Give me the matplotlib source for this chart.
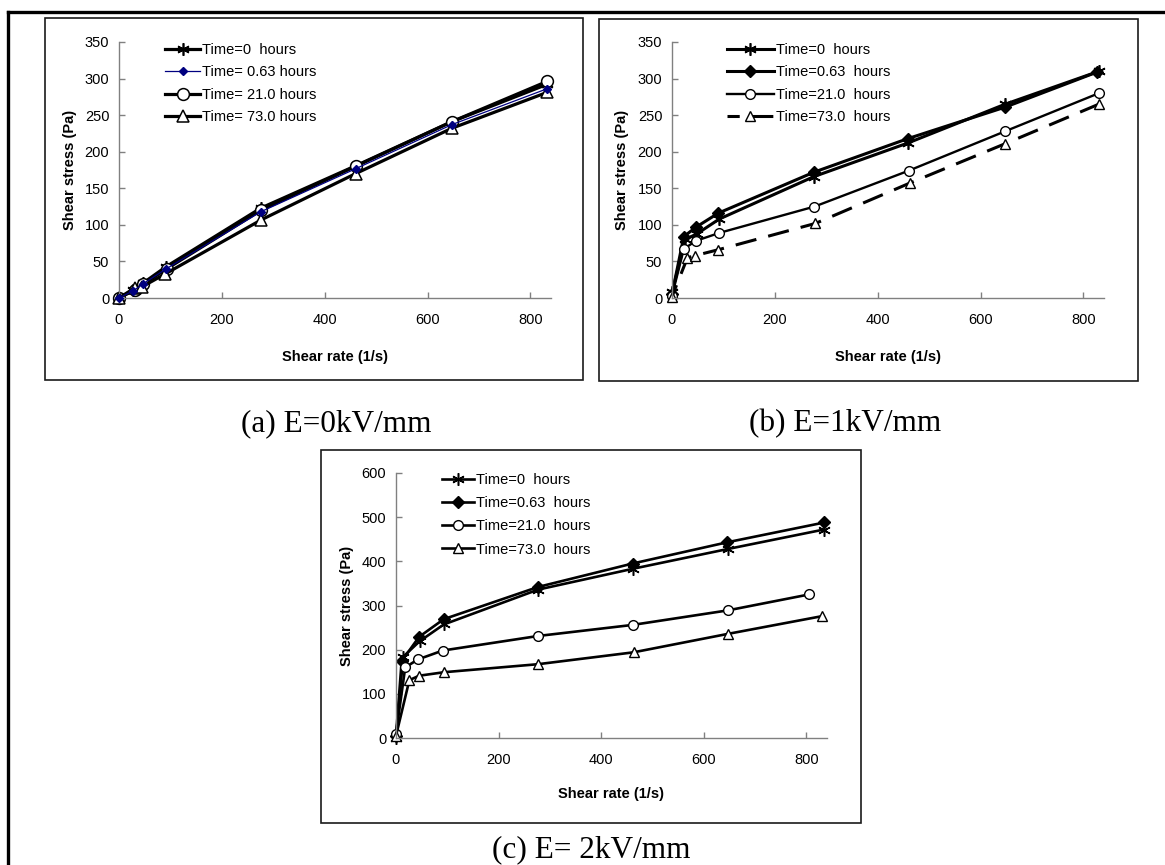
# Libs
import matplotlib
matplotlib.use("Agg")
import matplotlib.pyplot as plt
import matplotlib.patches as mpatches
from matplotlib.lines import Line2D


# --- Data ---

# Panel (a) E=0kV/mm
a_rate_0 = [0, 28, 46, 92, 276, 461, 647, 832]
a_stress_0 = [0, 11, 20, 43, 123, 181, 241, 292]
a_rate_063 = [0, 28, 46, 92, 276, 461, 647, 832]
a_stress_063 = [0, 10, 19, 40, 118, 177, 237, 286]
a_rate_21 = [0, 31, 47, 93, 276, 460, 647, 832]
a_stress_21 = [0, 11, 19, 40, 120, 180, 241, 296]
a_rate_73 = [0, 31, 44, 90, 277, 460, 647, 832]
a_stress_73 = [0, 14, 15, 33, 107, 170, 232, 281]

# Panel (b) E=1kV/mm
b_rate_0 = [0, 26, 49, 92, 276, 459, 648, 830]
b_stress_0 = [8, 80, 88, 108, 166, 212, 265, 310]
b_rate_063 = [0, 23, 47, 90, 276, 459, 648, 827]
b_stress_063 = [5, 84, 97, 116, 172, 218, 261, 309]
b_rate_21 = [0, 23, 46, 92, 277, 460, 648, 830]
b_stress_21 = [3, 67, 78, 89, 125, 174, 228, 280]
b_rate_73 = [0, 30, 45, 90, 279, 462, 648, 830]
b_stress_73 = [2, 55, 58, 66, 102, 157, 211, 265]

# Panel (c) E=2kV/mm
c_rate_0 = [0, 14, 46, 93, 277, 461, 647, 834]
c_stress_0 = [0, 184, 219, 257, 336, 383, 428, 472]
c_rate_063 = [0, 11, 45, 93, 277, 461, 645, 835]
c_stress_063 = [5, 174, 229, 269, 342, 395, 443, 488]
c_rate_21 = [0, 18, 43, 91, 277, 461, 647, 805]
c_stress_21 = [10, 160, 178, 198, 231, 256, 289, 325]
c_rate_73 = [0, 26, 45, 94, 276, 463, 648, 831]
c_stress_73 = [5, 131, 141, 149, 167, 194, 236, 276]

labels_a = ["Time=0  hours", "Time= 0.63 hours", "Time= 21.0 hours", "Time= 73.0 hours"]
labels_bc = ["Time=0  hours", "Time=0.63  hours", "Time=21.0  hours", "Time=73.0  hours"]
captions = ["(a) E=0kV/mm", "(b) E=1kV/mm", "(c) E= 2kV/mm"]
x_ticks = [0, 200, 400, 600, 800]
y_ticks_ab = [0, 50, 100, 150, 200, 250, 300, 350]
y_ticks_c = [0, 100, 200, 300, 400, 500, 600]


# --- Layout helpers ---

W, H = 1165, 865
SANS = ["Liberation Sans", "DejaVu Sans"]
SERIF = ["Liberation Serif", "DejaVu Serif"]
ASTERISK = (6, 2, 0)
GREY = "#808080"

plt.rcParams["font.family"] = SANS


def fx(x):
    return x / W


def fy(y):
    return 1 - y / H


# Creates an axes from pixel edges (left, top, right, bottom)
def add_axes(fig, l, t, r, b):
    return fig.add_axes([fx(l), fy(b), (r - l) / W, (b - t) / H])


# Draws a plain rectangle frame in pixel coordinates
def add_box(fig, l, t, r, b, lw=1.2):
    fig.patches.append(mpatches.Rectangle(
        (fx(l), fy(b)), (r - l) / W, (b - t) / H,
        transform=fig.transFigure, fill=False, edgecolor="#1a1a1a", linewidth=lw,
    ))


# Excel-like axis styling
def style_axes(ax, yticks, ymax):
    ax.set_xlim(0, 840)
    ax.set_ylim(0, ymax)
    ax.set_xticks(x_ticks)
    ax.set_yticks(yticks)
    for side in ("top", "right"):
        ax.spines[side].set_visible(False)
    for side in ("left", "bottom"):
        ax.spines[side].set_color(GREY)
        ax.spines[side].set_linewidth(1.0)
    ax.tick_params(axis="both", direction="in", length=4, width=1, color=GREY,
                   labelsize=10.5, labelcolor="black")
    ax.tick_params(axis="x", pad=11)
    ax.tick_params(axis="y", pad=7)
    ax.set_xlabel("Shear rate (1/s)", fontsize=10.5, fontweight="bold")
    ax.set_ylabel("Shear stress (Pa)", fontsize=10.5, fontweight="bold")
    ax.xaxis.label.set_va("center")
    ax.yaxis.label.set_va("center")


# Places a borderless legend with its top-left at a pixel position
def add_legend(fig, ax, x, y, handlelength, spacing):
    ax.legend(loc="upper left", bbox_to_anchor=(fx(x), fy(y)), bbox_transform=fig.transFigure,
              frameon=False, borderpad=0, borderaxespad=0, fontsize=10.5,
              handlelength=handlelength, handletextpad=0.15, labelspacing=spacing, numpoints=1)


# --- Figure ---

fig = plt.figure(figsize=(W / 100, H / 100), dpi=100)

# outer frame (runs off the right and bottom of the page)
fig.lines.append(Line2D([fx(8), fx(8)], [fy(12), fy(870)], transform=fig.transFigure,
                        color="black", linewidth=2.4))
fig.lines.append(Line2D([fx(8), fx(1170)], [fy(12), fy(12)], transform=fig.transFigure,
                        color="black", linewidth=2.4))

add_box(fig, 45, 18, 583, 380)
add_box(fig, 599, 19, 1138, 381)
add_box(fig, 321, 450, 861, 823)

mk = dict(clip_on=False)

# Panel (a)
ax_a = add_axes(fig, 119, 42, 551, 298)
ax_a.plot(a_rate_0, a_stress_0, color="black", lw=2.3, marker=ASTERISK, ms=9, mew=1.2,
          label=labels_a[0], **mk)
ax_a.plot(a_rate_063, a_stress_063, color="#000080", lw=0.9, marker="D", ms=4,
          mfc="#000080", mec="#000080", label=labels_a[1], zorder=3, **mk)
ax_a.plot(a_rate_21, a_stress_21, color="black", lw=2.3, marker="o", ms=8.5, mfc="white",
          mec="black", mew=1.1, label=labels_a[2], **mk)
ax_a.plot(a_rate_73, a_stress_73, color="black", lw=2.3, marker="^", ms=8.5, mfc="white",
          mec="black", mew=1.1, label=labels_a[3], **mk)
style_axes(ax_a, y_ticks_ab, 350)
ax_a.xaxis.set_label_coords(0.5, -59 / 256)
ax_a.yaxis.set_label_coords(-49 / 432, 0.5)
add_legend(fig, ax_a, 165, 43, 2.4, 0.58)

# Panel (b)
ax_b = add_axes(fig, 672, 42, 1104, 298)
ax_b.plot(b_rate_0, b_stress_0, color="black", lw=2.2, marker=ASTERISK, ms=9, mew=1.2,
          label=labels_bc[0], **mk)
ax_b.plot(b_rate_063, b_stress_063, color="black", lw=2.2, marker="D", ms=6,
          mfc="black", label=labels_bc[1], **mk)
ax_b.plot(b_rate_21, b_stress_21, color="black", lw=1.7, marker="o", ms=7, mfc="white",
          mec="black", mew=1.0, label=labels_bc[2], **mk)
ax_b.plot(b_rate_73, b_stress_73, color="black", lw=2.2, ls=(3, (7, 4)), marker="^", ms=7,
          mfc="white", mec="black", mew=1.0, label=labels_bc[3], **mk)
style_axes(ax_b, y_ticks_ab, 350)
ax_b.xaxis.set_label_coords(0.5, -59 / 256)
ax_b.yaxis.set_label_coords(-50 / 432, 0.5)
add_legend(fig, ax_b, 727, 43, 3.2, 0.58)

# Panel (c)
ax_c = add_axes(fig, 396, 473, 827, 738)
ax_c.plot(c_rate_0, c_stress_0, color="black", lw=1.9, marker=ASTERISK, ms=9, mew=1.1,
          label=labels_bc[0], **mk)
ax_c.plot(c_rate_063, c_stress_063, color="black", lw=1.9, marker="D", ms=6,
          mfc="black", label=labels_bc[1], **mk)
ax_c.plot(c_rate_21, c_stress_21, color="black", lw=1.9, marker="o", ms=7, mfc="white",
          mec="black", mew=1.0, label=labels_bc[2], **mk)
ax_c.plot(c_rate_73, c_stress_73, color="black", lw=1.9, marker="^", ms=7, mfc="white",
          mec="black", mew=1.0, label=labels_bc[3], **mk)
style_axes(ax_c, y_ticks_c, 600)
ax_c.xaxis.set_label_coords(0.5, -56 / 265)
ax_c.yaxis.set_label_coords(-49 / 431, 0.5)
add_legend(fig, ax_c, 442, 473, 2.2, 0.63)

# Captions
for text, (cx, cy) in zip(captions, [(336, 424), (845, 424), (591, 850)]):
    fig.text(fx(cx), fy(cy), text, family=SERIF, fontsize=22.5, ha="center", va="center")

fig.savefig("out.png", dpi=100)
plt.close(fig)
